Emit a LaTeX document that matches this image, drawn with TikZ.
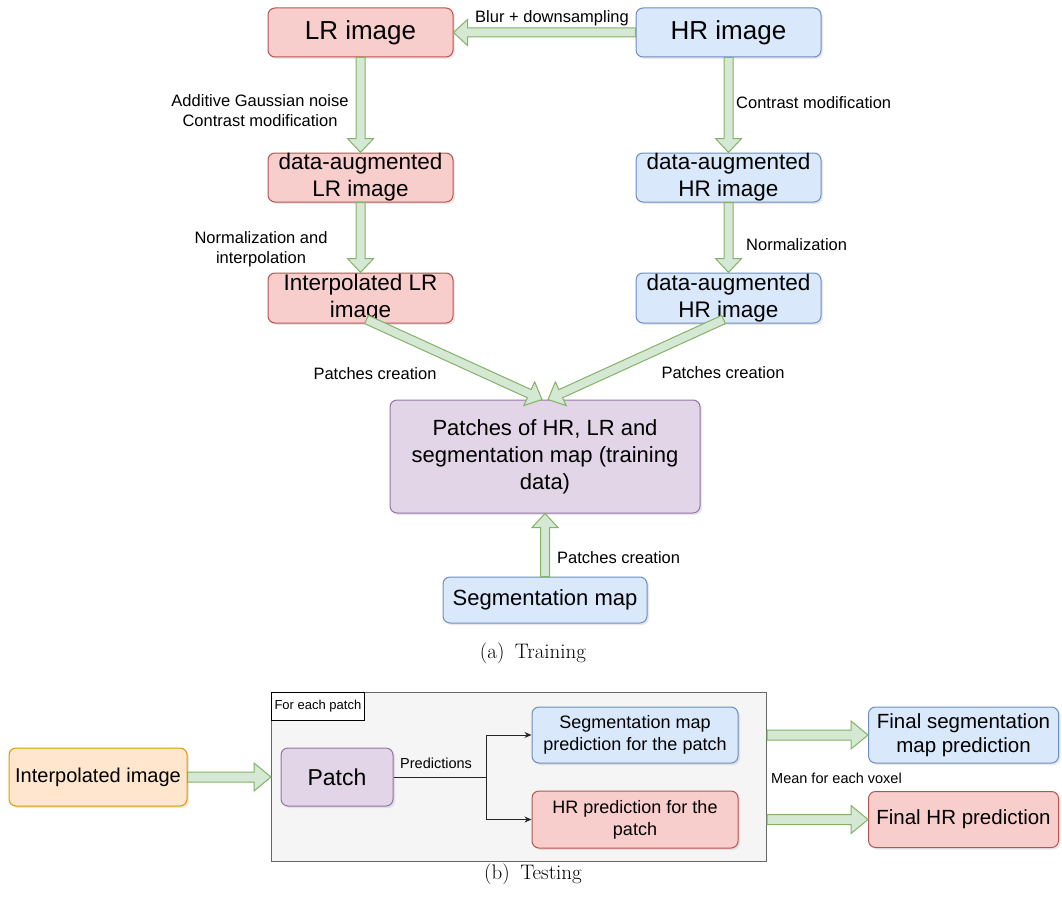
\documentclass[tikz,border=0pt]{standalone}
\usepackage{fontspec}
\newfontfamily\dio{Liberation Sans}
\usetikzlibrary{calc,shadows,arrows.meta}
\definecolor{redF}{HTML}{F8CECC}\definecolor{redS}{HTML}{B85450}
\definecolor{blueF}{HTML}{DAE8FC}\definecolor{blueS}{HTML}{6C8EBF}
\definecolor{purF}{HTML}{E1D5E7}\definecolor{purS}{HTML}{9673A6}
\definecolor{orgF}{HTML}{FFE6CC}\definecolor{orgS}{HTML}{D79B00}
\definecolor{grnF}{HTML}{D5E8D4}\definecolor{grnS}{HTML}{82B366}
\definecolor{grayF}{HTML}{F5F5F5}\definecolor{grayS}{HTML}{666666}
\newcommand\fsz[2]{\fontsize{#1}{#2}\selectfont}
% #1 shaft half width, #2 head half width, #3 head length, #4 start, #5 end
\newcommand\flexarrowg[5]{%
  \path (#4) coordinate (fa-a) (#5) coordinate (fa-b);
  \coordinate (fa-h) at ($(fa-b)!#3pt!(fa-a)$);
  \filldraw[fill=grnF, draw=grnS, line width=1pt, line join=miter]
    ($(fa-a)!#1pt!90:(fa-b)$) -- ($(fa-h)!#1pt!90:(fa-b)$) -- ($(fa-h)!#2pt!90:(fa-b)$)
    -- (fa-b) -- ($(fa-h)!#2pt!-90:(fa-b)$) -- ($(fa-h)!#1pt!-90:(fa-b)$)
    -- ($(fa-a)!#1pt!-90:(fa-b)$) -- cycle;
}
\newcommand\flexarrow[2]{\flexarrowg{4.5}{13}{14}{#1}{#2}}
\newcommand\flexarrowb[2]{\flexarrowg{5}{14}{17}{#1}{#2}}
\tikzset{
  box/.style={rectangle, rounded corners=7pt, line width=1pt, align=center, inner sep=0pt,
    drop shadow={shadow xshift=2pt, shadow yshift=-2pt, opacity=0.18}},
  redbox/.style={box, fill=redF, draw=redS},
  bluebox/.style={box, fill=blueF, draw=blueS},
  purbox/.style={box, fill=purF, draw=purS},
  orgbox/.style={box, fill=orgF, draw=orgS},
  lbl/.style={font=\dio\fsz{16.5}{20}, inner sep=0pt, align=center},
  slbl/.style={font=\dio\fsz{14.5}{17}, inner sep=0pt, align=center},
  thin/.style={line width=1pt, draw=black!85, -{Stealth[length=7pt,width=6pt]}},
  captxt/.style={font=\fsz{21}{25}, inner sep=0pt},
}
\begin{document}
\begin{tikzpicture}[x=1pt,y=-1pt]
\useasboundingbox (0,0) rectangle (1062,899);
% ---------- Training ----------
\node[redbox, minimum width=185, minimum height=49, font=\dio\fsz{26}{30}] (lr) at (360.5,32.5) {LR image};
\node[bluebox, minimum width=185, minimum height=49, font=\dio\fsz{26}{30}] (hr) at (728.5,32.5) {HR image};
\node[redbox, minimum width=185, minimum height=49, font=\dio\fsz{22.5}{27}] (dlr) at (360.5,177.5) {data-augmented\\LR image};
\node[bluebox, minimum width=185, minimum height=49, font=\dio\fsz{22.5}{27}] (dhr) at (728.5,177.5) {data-augmented\\HR image};
\node[redbox, minimum width=185, minimum height=50, font=\dio\fsz{22.5}{27}] (ilr) at (360.5,298) {Interpolated LR\\image};
\node[bluebox, minimum width=185, minimum height=50, font=\dio\fsz{22.5}{27}] (nhr) at (728.5,298) {data-augmented\\HR image};
\node[purbox, minimum width=310, minimum height=113, font=\dio\fsz{22}{27}] (pat) at (545,456.5) {Patches of HR, LR and\\segmentation map (training\\data)};
\node[bluebox, minimum width=204, minimum height=46, font=\dio\fsz{22}{26}] (seg) at (545,600) {Segmentation map};

\flexarrow{hr.west}{lr.east}
\flexarrow{lr.south}{dlr.north}
\flexarrow{hr.south}{dhr.north}
\flexarrow{dlr.south}{ilr.north}
\flexarrow{dhr.south}{nhr.north}
\flexarrow{$(ilr.south)+(6,-4)$}{$(pat.north)+(-3,0)$}
\flexarrow{$(nhr.south)+(-5,-4)$}{$(pat.north)+(3,0)$}
\flexarrow{seg.north}{pat.south}

\node[lbl] (l1) at (552,18) {Blur + downsampling};
\node[lbl] (l2) at (260,111) {Additive Gaussian noise\\Contrast modification};
\node[lbl, anchor=west] (l3) at (736,103) {Contrast modification};
\node[lbl] (l4) at (261,249) {Normalization and\\interpolation};
\node[lbl, anchor=west] (l5) at (746,245) {Normalization};
\node[lbl] (l6) at (375,374) {Patches creation};
\node[lbl] (l7) at (723,373) {Patches creation};
\node[lbl, anchor=west] (l8) at (557,558) {Patches creation};
\node[captxt] (capa) at (533,653) {(a)\hspace{0.5em}Training};

% ---------- Testing ----------
\node[draw=grayS, fill=grayF, line width=1pt, minimum width=495, minimum height=169, inner sep=0pt, anchor=north west] (cont) at (271,692) {};
\node[draw=black, fill=white, line width=0.8pt, minimum width=93, minimum height=28, inner sep=0pt, anchor=north west, font=\dio\fsz{13}{15}] (fep) at (cont.north west) {For each patch};
\node[orgbox, minimum width=178, minimum height=58, font=\dio\fsz{20}{24}] (interp) at (98,777) {Interpolated image};
\node[purbox, minimum width=112, minimum height=58, font=\dio\fsz{23}{27}] (patch) at (337,777) {Patch};
\node[bluebox, minimum width=206, minimum height=56, font=\dio\fsz{18}{22}] (segp) at (635,735) {Segmentation map\\prediction for the patch};
\node[redbox, minimum width=206, minimum height=57, font=\dio\fsz{18}{22}] (hrp) at (635,819.5) {HR prediction for the\\patch};
\node[bluebox, minimum width=190, minimum height=56, font=\dio\fsz{20.5}{24.5}] (fseg) at (963.5,735) {Final segmentation\\map prediction};
\node[redbox, minimum width=190, minimum height=56, font=\dio\fsz{20.5}{24.5}] (fhr) at (963.5,819.5) {Final HR prediction};

\flexarrowb{interp.east}{cont.west}
\flexarrowb{cont.east |- fseg.west}{fseg.west}
\flexarrowb{cont.east |- fhr.west}{fhr.west}

\coordinate (br) at (486,777);
\draw[thin] (patch.east) -- (br) |- (segp.west);
\draw[thin] (br) |- (hrp.west);

\node[slbl, anchor=west] (l9) at (400,763) {Predictions};
\node[slbl, anchor=west] (l10) at (771,778) {Mean for each voxel};
\node[captxt] (capb) at (533,874) {(b)\hspace{0.5em}Testing};
\end{tikzpicture}
\end{document}
